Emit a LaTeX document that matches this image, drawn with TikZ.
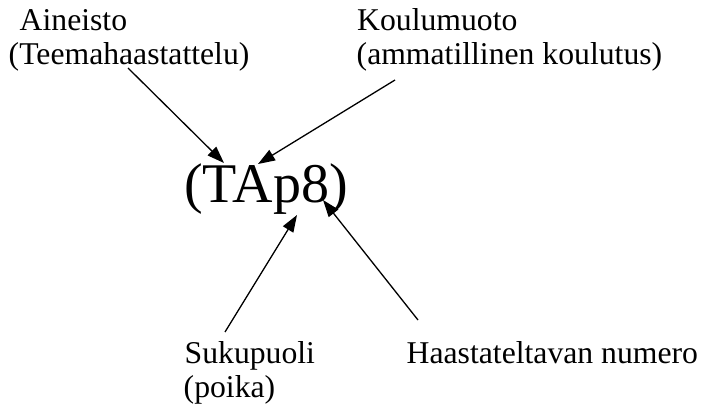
\documentclass[tikz,border=0pt]{standalone}
\usepackage{fontspec}
\setmainfont{Liberation Serif}
\usetikzlibrary{arrows.meta}
\tikzset{
  lbl/.style={inner sep=0pt, anchor=base west, font=\fontsize{31.7}{34.5}\selectfont},
  big/.style={inner sep=0pt, anchor=base west, font=\fontsize{56}{60}\selectfont},
  pointer/.style={line width=1.3pt, -{Triangle[length=17pt,width=12pt]}}
}
\begin{document}
\begin{tikzpicture}[x=1pt,y=-1pt]
\useasboundingbox (0,0) rectangle (704,411);
\node[lbl] (ain1) at (19.5,31) {Aineisto};
\node[lbl] (ain2) at (8.5,65) {(Teemahaastattelu)};
\node[lbl] (kou1) at (357,31) {Koulumuoto};
\node[lbl] (kou2) at (356.5,65) {(ammatillinen koulutus)};
\node[big] (code) at (184,203) {(TAp8)};
\node[lbl] (suk1) at (184.5,363) {Sukupuoli};
\node[lbl] (suk2) at (183.5,397) {(poika)};
\node[lbl] (haa) at (406.5,363) {Haastateltavan numero};
\coordinate (s1) at (128,68);
\coordinate (t1) at (224,163);
\coordinate (s2) at (395,80);
\coordinate (t2) at (258,164);
\coordinate (s3) at (225,332);
\coordinate (t3) at (297,215);
\coordinate (s4) at (418,320);
\coordinate (t4) at (323,200);
\draw[pointer] (s1) -- (t1);
\draw[pointer] (s2) -- (t2);
\draw[pointer] (s3) -- (t3);
\draw[pointer] (s4) -- (t4);
\end{tikzpicture}
\end{document}
